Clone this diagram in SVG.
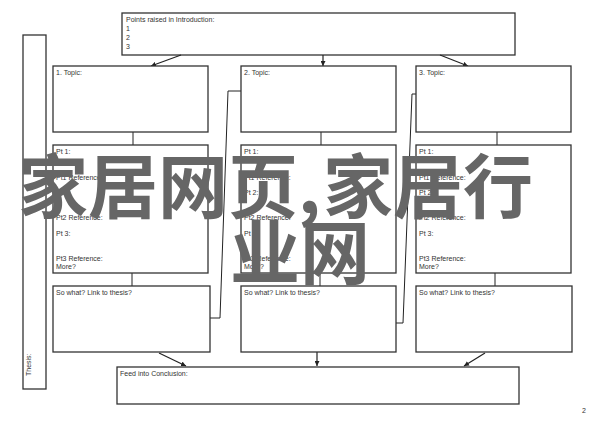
<svg xmlns="http://www.w3.org/2000/svg" width="600" height="424" viewBox="0 0 600 424">
<defs>
<marker id="ah" viewBox="0 0 10 10" refX="10" refY="5" markerWidth="5" markerHeight="5" orient="auto" markerUnits="userSpaceOnUse">
<path d="M0,0 L10,5 L0,10 z" fill="#222"/>
</marker>
<style>
.box{fill:#fff;stroke:#333;stroke-width:1.3}
.t{font-family:"Liberation Sans",Arial,sans-serif;font-size:7px;fill:#333}
.c{fill:none;stroke:#222;stroke-width:1}
.a{fill:none;stroke:#222;stroke-width:1.2;marker-end:url(#ah)}
.wm{font-family:"Noto Sans CJK SC","Noto Sans CJK JP",sans-serif;font-size:70px;font-weight:700;fill:#666}
</style>
</defs>
<rect width="600" height="424" fill="#fff"/>
<g id="thesis"><rect class="box" x="23" y="35" width="23" height="354"/><text class="t" transform="translate(31,376) rotate(-90)">Thesis:</text></g>
<g id="intro"><rect class="box" x="122" y="13" width="393" height="42"/>
<text class="t" x="126" y="22">Points raised in Introduction:</text>
<text class="t" x="126" y="31">1</text><text class="t" x="126" y="40">2</text><text class="t" x="126" y="49">3</text></g>
<g id="connectors">
<line class="a" x1="181" y1="55" x2="151" y2="66"/>
<line class="a" x1="323" y1="55" x2="323" y2="66"/>
<line class="a" x1="440" y1="55" x2="468" y2="66"/>
<line class="c" x1="133" y1="132" x2="133" y2="145"/>
<line class="c" x1="321" y1="132" x2="321" y2="145"/>
<line class="c" x1="497" y1="132" x2="497" y2="145"/>
<line class="c" x1="132" y1="273" x2="132" y2="286"/>
<line class="c" x1="320" y1="273" x2="320" y2="286"/>
<line class="c" x1="495" y1="273" x2="495" y2="286"/>
<polyline class="c" points="206,318 220,318 228,91 242,91"/>
<polyline class="c" points="389,323 403,323 412,94 426,94"/>
<line class="a" x1="159" y1="353" x2="186" y2="366"/>
<line class="a" x1="317" y1="352" x2="317" y2="366"/>
<line class="a" x1="485" y1="353" x2="464" y2="366"/>
</g>
<g id="topic1"><rect class="box" x="53" y="66" width="155" height="66"/><text class="t" x="56" y="75">1. Topic:</text></g>
<g id="topic2"><rect class="box" x="241" y="66" width="155" height="66"/><text class="t" x="244" y="75">2. Topic:</text></g>
<g id="topic3"><rect class="box" x="416" y="66" width="155" height="66"/><text class="t" x="419" y="75">3. Topic:</text></g>
<g id="pts1"><rect class="box" x="53" y="145" width="155" height="128"/>
<text class="t" x="56" y="154">Pt 1:</text><text class="t" x="56" y="180">Pt1 Reference:</text><text class="t" x="56" y="195">Pt 2:</text><text class="t" x="56" y="220">Pt2 Reference:</text><text class="t" x="56" y="236">Pt 3:</text><text class="t" x="56" y="261">Pt3 Reference:</text><text class="t" x="56" y="269">More?</text></g>
<g id="pts2"><rect class="box" x="241" y="145" width="155" height="128"/>
<text class="t" x="244" y="154">Pt 1:</text><text class="t" x="244" y="180">Pt1 Reference:</text><text class="t" x="244" y="195">Pt 2:</text><text class="t" x="244" y="220">Pt2 Reference:</text><text class="t" x="244" y="236">Pt 3:</text><text class="t" x="244" y="261">Pt3 Reference:</text><text class="t" x="244" y="269">More?</text></g>
<g id="pts3"><rect class="box" x="416" y="145" width="155" height="128"/>
<text class="t" x="419" y="154">Pt 1:</text><text class="t" x="419" y="180">Pt1 Reference:</text><text class="t" x="419" y="195">Pt 2:</text><text class="t" x="419" y="220">Pt2 Reference:</text><text class="t" x="419" y="236">Pt 3:</text><text class="t" x="419" y="261">Pt3 Reference:</text><text class="t" x="419" y="269">More?</text></g>
<g id="sowhat1"><rect class="box" x="53" y="286" width="157" height="66"/><text class="t" x="56" y="295">So what?  Link to thesis?</text></g>
<g id="sowhat2"><rect class="box" x="241" y="286" width="155" height="66"/><text class="t" x="244" y="295">So what?  Link to thesis?</text></g>
<g id="sowhat3"><rect class="box" x="416" y="286" width="156" height="66"/><text class="t" x="419" y="295">So what?  Link to thesis?</text></g>
<g id="conclusion"><rect class="box" x="117" y="367" width="402" height="37"/><text class="t" x="120" y="376">Feed into Conclusion:</text></g>
<text class="t" x="582" y="413" font-size="6">2</text>
<g id="watermark">
<text class="wm" x="18 88 158 228 298 323 393 463" y="213">家居网页,家居行</text>
<text class="wm" x="230 300" y="279">业网</text>
</g>
</svg>
